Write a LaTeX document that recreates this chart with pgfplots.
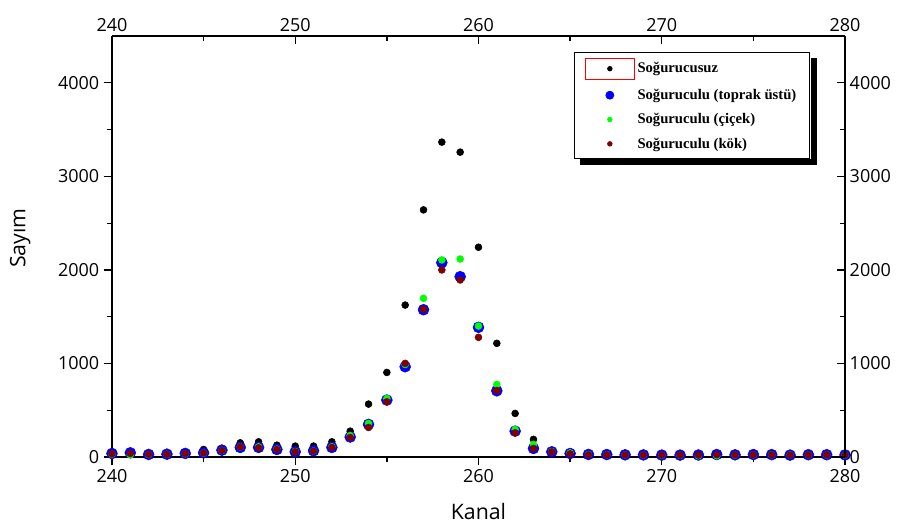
\documentclass[border=0pt]{standalone}
\usepackage{pgfplots}
\pgfplotsset{compat=1.18}
\usepackage{pgfplotstable}
\usepackage{fontspec}
\setmainfont{Open Sans}
\newfontfamily\legfont{Liberation Serif}
\usetikzlibrary{calc}
\definecolor{ptblue}{RGB}{0,0,255}
\definecolor{ptgreen}{RGB}{0,255,0}
\definecolor{ptred}{RGB}{128,0,0}

% legend image with the red frame round the first marker
\pgfplotsset{
  redbox/.style={
    legend image code/.code={
      \draw[mark repeat=2, mark phase=2, ##1] plot coordinates {(0cm,0cm)(0.3cm,0cm)(0.6cm,0cm)};
      \draw[draw=red, fill=none, line width=0.5pt] (0.3cm-18.5pt,-8pt) rectangle (0.3cm+18.5pt,8pt);
    }
  }
}

% Kanal, Soğurucusuz, toprak üstü, çiçek, kök
\pgfplotstableread{
ch  s0    top   cic   kok
240 35    39    32    36
241 40    46    25    40
242 30    29    28    30
243 35    32    30    30
244 40    40    36    38
245 82    46    44    45
246 93    75    72    72
247 153   104   110   110
248 164   104   110   100
249 128   82    85    82
250 118   57    60    57
251 118   68    66    65
252 164   104   110   104
253 278   215   230   210
254 567   350   360   317
255 905   610   627   591
256 1625  966   990   1002
257 2642  1575  1697  1580
258 3366  2078  2107  2000
259 3259  1928  2117  1893
260 2243  1387  1401  1280
261 1216  709   777   711
262 467   278   296   260
263 190   93    136   93
264 55    57    60    57
265 40    39    45    35
266 30    29    28    26
267 30    28    26    25
268 28    25    24    24
269 28    24    22    23
270 26    22    20    22
271 26    22    20    22
272 27    23    15    22
273 28    28    15    26
274 27    25    22    24
275 28    28    26    26
276 27    27    25    25
277 25    22    22    21
278 27    26    24    25
279 27    26    24    25
280 25    24    22    23
}\data

\begin{document}
\begin{tikzpicture}
\pgfplotsset{
  base/.style={
    scale only axis, width=550pt, height=316pt,
    xmin=240, xmax=280, ymin=0, ymax=4500,
    xtick={240,250,...,280}, minor x tick num=1,
    ytick={0,1000,...,4000}, minor y tick num=1,
    major tick length=6pt, minor tick length=4pt,
    axis line style={line width=1.1pt,-},
    every tick/.style={black, line width=1pt},
    tick label style={font=\fontsize{13.5}{15}\selectfont},
    /pgf/number format/1000 sep={},
    /pgf/number format/assume math mode=true,
  }
}
\begin{axis}[base, name=main,
  axis x line*=bottom, axis y line*=left, tick align=outside,
  xlabel={Kanal}, ylabel={Sayım},
  label style={font=\fontsize{16}{18}\selectfont},
  xlabel style={at={(axis description cs:0.5,-0.13)}, anchor=center},
  ylabel style={at={(axis description cs:-0.125,0.52)}, anchor=center},
  legend cell align=left,
  legend style={name=leg, at={(rel axis cs:0.63,0.962)}, anchor=north west,
    draw=black, line width=0.6pt, fill=white,
    font=\legfont\bfseries\fontsize{11}{13}\selectfont,
    row sep=5pt, inner xsep=8pt, inner ysep=4pt,
    /tikz/every even column/.append style={column sep=5pt}},
]
\addplot[only marks, mark=*, mark size=2.6pt, color=black, redbox,
  legend image post style={mark size=1.7pt}]
  table[x=ch, y=s0] {\data};
\addlegendentry{Soğurucusuz}
\addplot[only marks, mark=*, mark size=4.1pt, color=ptblue,
  legend image post style={mark size=3pt}]
  table[x=ch, y=top] {\data};
\addlegendentry{Soğuruculu (toprak üstü)}
\addplot[only marks, mark=*, mark size=2.6pt, color=ptgreen,
  legend image post style={mark size=1.7pt}]
  table[x=ch, y=cic] {\data};
\addlegendentry{Soğuruculu (çiçek)}
\addplot[only marks, mark=*, mark size=2.6pt, color=ptred,
  legend image post style={mark size=1.7pt}]
  table[x=ch, y=kok] {\data};
\addlegendentry{Soğuruculu (kök)}
\end{axis}
\begin{axis}[base,
  axis x line*=top, axis y line*=right, tick align=inside,
]
\end{axis}
% solid shadow of the legend frame
\fill[black] ($(leg.north east)+(0.3pt,-4.5pt)$) rectangle ($(leg.south east)+(4.8pt,-4.8pt)$);
\fill[black] ($(leg.south west)+(4.5pt,-0.3pt)$) rectangle ($(leg.south east)+(4.8pt,-4.8pt)$);
\pgfresetboundingbox
\path ($(main.south west)+(-84pt,-51pt)$) rectangle ($(main.north east)+(43.5pt,27pt)$);
\end{tikzpicture}
\end{document}
